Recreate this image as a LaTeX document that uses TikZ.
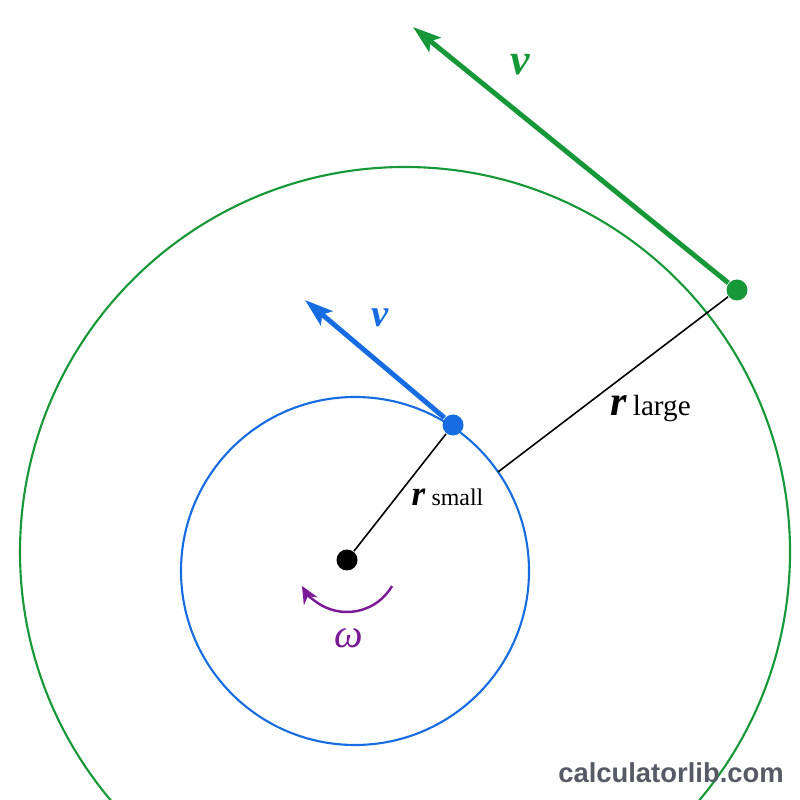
\documentclass[tikz,border=0pt]{standalone}
\usepackage{fontspec}
\setmainfont{Liberation Serif}
\newfontfamily\marksans{Liberation Sans}
\usepackage{tikz}
\usetikzlibrary{arrows.meta, positioning}
\usepackage{xcolor}
\definecolor{orbitgreen}{RGB}{22,152,56}
\definecolor{orbitblue}{RGB}{22,108,224}
\definecolor{spinpurple}{RGB}{122,26,150}
\definecolor{markgray}{RGB}{86,90,100}

\begin{document}
\begin{tikzpicture}[
    dot/.style={circle, inner sep=0pt, minimum size=0.21cm},
    vel/.style={line width=1.4pt, -{Stealth[length=8pt,width=5.2pt,inset=1.6pt]}},
    radius line/.style={line width=0.45pt, black},
    orbit/.style={line width=0.6pt}
  ]
    \useasboundingbox (0,0) rectangle (8,8);
    \clip (0,0) rectangle (8,8);

    % circles
    \draw[orbit, orbitgreen] (4.05,2.48) circle (3.85);
    \draw[orbit, orbitblue] (3.55,2.29) circle (1.74);

    % dots
    \node[dot, fill=black] (O) at (3.47,2.40) {};
    \node[dot, fill=orbitblue] (B) at (4.53,3.75) {};
    \node[dot, fill=orbitgreen] (G) at (7.37,5.10) {};
    \coordinate (P) at (4.98,3.28);
    \coordinate (Btip) at (3.05,5.00);
    \coordinate (Gtip) at (4.13,7.73);

    % radii
    \draw[radius line] (O) -- (B);
    \draw[radius line] (P) -- (G);

    % velocities
    \draw[vel, orbitblue] (B) -- (Btip);
    \draw[vel, orbitgreen] (G) -- (Gtip);

    % rotation
    \draw[line width=0.7pt, spinpurple, -{Stealth[length=5pt,width=4.5pt]}]
        ([shift={(-30:0.52)}]O.center) arc[start angle=-30, end angle=-150, radius=0.52];

    % labels
    \node[orbitgreen, font=\fontsize{12.5}{12.5}\selectfont] (vG) at (5.20,7.35) {\textbf{\textit{v}}};
    \node[orbitblue, font=\fontsize{11}{11}\selectfont] (vB) at (3.80,4.82) {\textbf{\textit{v}}};
    \node[spinpurple, font=\fontsize{11.5}{11.5}\selectfont] (w) at (3.49,1.62) {\textit{ω}};
    \node[anchor=base, inner sep=0pt] (rL) at (6.505,3.84)
        {{\fontsize{12}{12}\selectfont\textbf{\textit{r}}}\,{\fontsize{8.3}{8.3}\selectfont large}};
    \node[anchor=base, inner sep=0pt] (rS) at (4.475,2.94)
        {{\fontsize{10}{10}\selectfont\textbf{\textit{r}}}\,{\fontsize{6.8}{6.8}\selectfont small}};

    % watermark
    \node[anchor=base, inner sep=0pt, markgray, font=\marksans\bfseries\fontsize{7.8}{7.8}\selectfont] (mark) at (6.71,0.18) {calculatorlib.com};
\end{tikzpicture}
\end{document}
